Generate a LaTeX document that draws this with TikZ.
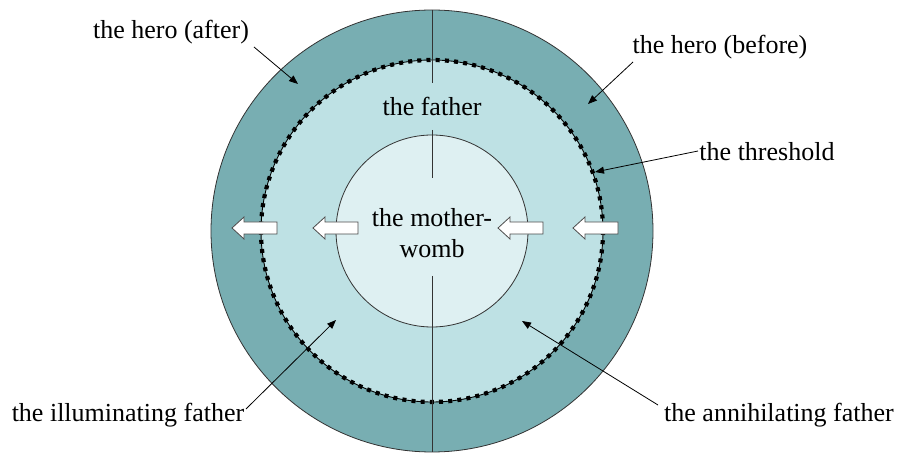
\documentclass[tikz,border=0pt]{standalone}
\usepackage{fontspec}
\setmainfont{Liberation Serif}
\usetikzlibrary{arrows.meta}
\definecolor{outerc}{RGB}{120,174,178}
\definecolor{midc}{RGB}{190,225,228}
\definecolor{innerc}{RGB}{222,240,242}
\tikzset{
  lbl/.style={font=\fontsize{26}{31}\selectfont, inner sep=0pt, align=center},
  pointer/.style={line width=0.8pt, -{Triangle[length=9pt,width=7pt]}},
  rim/.style={draw=black!80, line width=0.8pt},
  larrow/.pic={\draw[fill=white, draw=black!70, line width=0.8pt]
     (0,0) -- (12,-11) -- (12,-6) -- (45,-6) -- (45,6) -- (12,6) -- (12,11) -- cycle;}
}
\begin{document}
\begin{tikzpicture}[x=1pt,y=-1pt]
\useasboundingbox (0,0) rectangle (898,462);
\coordinate (c) at (432,231);
% rings
\fill[outerc] (c) circle (221);
\draw[rim] (c) circle (221);
\fill[midc] (c) circle (171);
\draw[black, line width=0.9pt] (c) circle (171);
\draw[black, line width=4.2pt, dash pattern=on 4pt off 5.2pt] (c) circle (171);
\fill[innerc] (c) circle (96);
\draw[rim] (c) circle (96);
% vertical line
\coordinate (vtop) at (432,10);
\coordinate (v1) at (432,83);
\coordinate (v2) at (432,130);
\coordinate (v3) at (432,178);
\coordinate (v4) at (432,276);
\coordinate (vbot) at (432,452);
\draw[rim] (vtop) -- (v1);
\draw[rim] (v2) -- (v3);
\draw[rim] (v4) -- (vbot);
% texts inside
\node[lbl] (father) at (432,106) {the father};
\node[lbl] (mother) at (432,233) {the mother-\\womb};
% block arrows
\pic at (232,228) {larrow};
\pic at (313,228) {larrow};
\pic at (498,228) {larrow};
\pic at (573,228) {larrow};
% labels
\node[lbl] (after) at (171,32) {the hero (after)};
\node[lbl] (before) at (720,47) {the hero (before)};
\node[lbl] (thresh) at (767,152) {the threshold};
\node[lbl] (illum) at (128,415) {the illuminating father};
\node[lbl] (annih) at (779,415) {the annihilating father};
\coordinate (a1) at (254,47);  \coordinate (t1) at (298,84);
\coordinate (a2) at (633,62);  \coordinate (t2) at (588,104);
\coordinate (a3) at (698,151); \coordinate (t3) at (595,172);
\coordinate (a4) at (246,409); \coordinate (t4) at (336,320);
\coordinate (a5) at (658,405); \coordinate (t5) at (522,321);
\draw[pointer] (a1) -- (t1);
\draw[pointer] (a2) -- (t2);
\draw[pointer] (a3) -- (t3);
\draw[pointer] (a4) -- (t4);
\draw[pointer] (a5) -- (t5);
\end{tikzpicture}
\end{document}
